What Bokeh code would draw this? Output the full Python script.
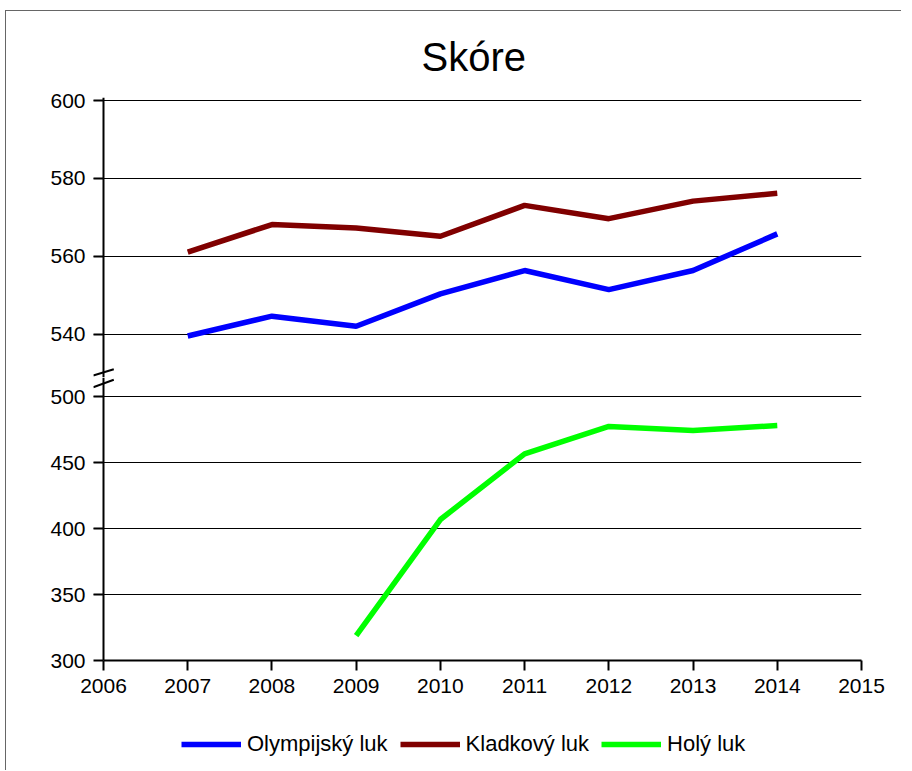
from bokeh.plotting import figure
from bokeh.layouts import column
from bokeh.models import FixedTicker, Legend, LegendItem, Arrow, Range1d, LinearAxis
from bokeh.embed import file_html
from bokeh.resources import INLINE

# ---- data ----
years = [2007, 2008, 2009, 2010, 2011, 2012, 2013, 2014]
olympijsky = [539.6, 544.7, 542.1, 550.4, 556.4, 551.5, 556.4, 565.8]
kladkovy = [561.1, 568.2, 567.3, 565.2, 573.1, 569.7, 574.2, 576.2]
holy_years = [2009, 2010, 2011, 2012, 2013, 2014]
holy = [318.9, 406.8, 456.6, 477.3, 474.2, 478.0]

x_ticks = [2006, 2007, 2008, 2009, 2010, 2011, 2012, 2013, 2014, 2015]
top_ticks = [540, 560, 580, 600]
bottom_ticks = [300, 350, 400, 450, 500]

names = ["Olympijský luk", "Kladkový luk", "Holý luk"]
colors = ["#0000FF", "#800000", "#00FF00"]

FONT = "Liberation Sans"
X0, X1 = 2006, 2015
X_START = 2005.8813          # frame reaches 10px left of the y axis line
LEFT = 87                    # canvas border left of frame
TOP = 86
FW = 768


def style_axis(ax, size="21px"):
    ax.axis_line_width = 2
    ax.axis_line_color = "black"
    ax.major_tick_line_width = 2
    ax.major_tick_line_color = "black"
    ax.major_tick_out = 10
    ax.major_tick_in = 0
    ax.minor_tick_out = 0
    ax.minor_tick_in = 0
    ax.major_label_text_font = FONT
    ax.major_label_text_font_size = size
    ax.major_label_text_color = "black"
    ax.major_label_standoff = 8


def setup_y(p, ticks):
    # labels + ticks: axis at frame edge, ticks pointing in up to the axis line
    ya = p.yaxis[0]
    style_axis(ya)
    ya.ticker = FixedTicker(ticks=ticks)
    ya.axis_line_color = None
    ya.major_tick_out = 0
    ya.major_tick_in = 10
    # the vertical axis line itself, at x = 2006
    line_ax = LinearAxis(fixed_location=X0, ticker=FixedTicker(ticks=[]),
                         axis_line_width=2, axis_line_color="black",
                         major_tick_line_color=None, minor_tick_line_color=None,
                         major_label_text_font=FONT)
    p.add_layout(line_ax, "left")
    p.ygrid.ticker = FixedTicker(ticks=ticks)
    p.ygrid.grid_line_color = "black"
    p.ygrid.grid_line_width = 1


def draw_series(p):
    rs = []
    rs.append(p.line(years, olympijsky, line_color=colors[0], line_width=5.5))
    rs.append(p.line(years, kladkovy, line_color=colors[1], line_width=5.5))
    rs.append(p.line(holy_years, holy, line_color=colors[2], line_width=5.5))
    return rs


# ---- top panel ----
p1 = figure(frame_width=FW, frame_height=280,
            x_range=Range1d(X_START, X1), y_range=Range1d(528.97, 600.77),
            output_backend="svg", toolbar_location=None,
            x_axis_location=None,
            min_border_left=LEFT, min_border_right=40,
            min_border_top=TOP, min_border_bottom=0,
            title="Skóre")
p1.title.text_font = FONT
p1.title.text_font_size = "40px"
p1.title.text_font_style = "normal"
p1.title.align = "left"
p1.title.offset = 328
p1.title.standoff = 38
p1.title.text_color = "black"
p1.outline_line_color = None
p1.xgrid.visible = False
setup_y(p1, top_ticks)
draw_series(p1)
p1.add_layout(Arrow(end=None, x_start=2005.878, y_start=529.49,
                    x_end=2006.122, y_end=531.10,
                    line_width=2, line_color="black"))

# ---- bottom panel ----
p2 = figure(frame_width=FW, frame_height=283,
            x_range=Range1d(X_START, X1), y_range=Range1d(300, 514.4),
            output_backend="svg", toolbar_location=None,
            min_border_left=LEFT, min_border_right=40,
            min_border_top=0, min_border_bottom=50)
p2.outline_line_color = None
p2.xgrid.visible = False
setup_y(p2, bottom_ticks)
style_axis(p2.xaxis[0])
p2.xaxis.bounds = (X0, X1)
p2.xaxis.ticker = FixedTicker(ticks=x_ticks)
draw_series(p2)
p2.add_layout(Arrow(end=None, x_start=2005.878, y_start=507.05,
                    x_end=2006.122, y_end=512.65,
                    line_width=2, line_color="black"))

# ---- legend strip ----
p3 = figure(frame_width=FW, frame_height=60,
            x_range=Range1d(X_START, X1), y_range=Range1d(0, 1),
            output_backend="svg", toolbar_location=None,
            x_axis_location=None, y_axis_location=None,
            min_border_left=LEFT, min_border_right=40,
            min_border_top=0, min_border_bottom=0)
p3.outline_line_color = None
p3.grid.visible = False
rs = draw_series(p3)   # out of this strip's range: only the legend shows
legend = Legend(items=[LegendItem(label=n, renderers=[r]) for n, r in zip(names, rs)],
                orientation="horizontal", location=(88, 13),
                label_text_font=FONT, label_text_font_size="22px",
                label_text_color="black",
                glyph_width=60, glyph_height=20, label_standoff=6, spacing=12,
                border_line_color=None, background_fill_alpha=0,
                margin=0, padding=0)
p3.add_layout(legend, "center")

layout = column(p1, p2, p3, spacing=0,
                styles={"margin-left": "5px", "margin-top": "10px",
                        "border-left": "1px solid #666666",
                        "border-top": "1px solid #666666"})
open("out.html", "w").write(file_html(layout, INLINE))
